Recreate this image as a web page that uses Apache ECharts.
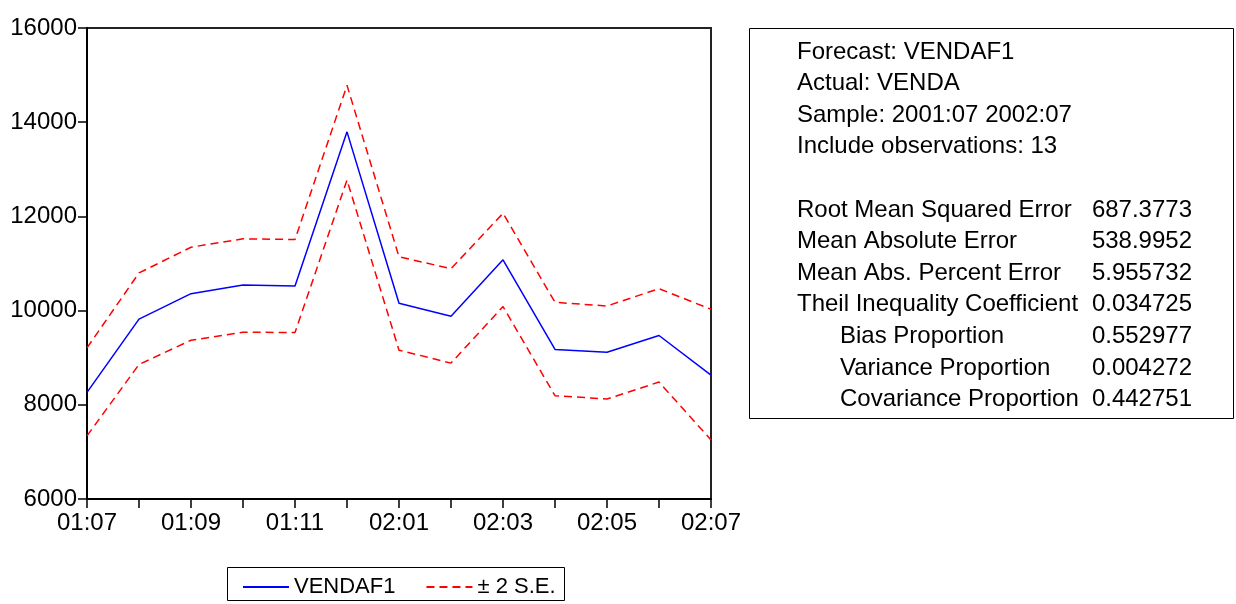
<!DOCTYPE html>
<html>
<head>
<meta charset="utf-8">
<script src="https://cdn.jsdelivr.net/npm/echarts@6/dist/echarts.min.js"></script>
<style>
  html, body { margin: 0; padding: 0; background: #fff; }
  #chart { width: 1236px; height: 604px; }
</style>
</head>
<body>
<div id="chart"></div>
<script>
// Monthly periods of the forecast sample
const periods = ['01:07', '01:08', '01:09', '01:10', '01:11', '01:12',
                 '02:01', '02:02', '02:03', '02:04', '02:05', '02:06', '02:07'];

// Forecast VENDAF1 and its ±2 standard-error band
const forecast = [8264, 9820, 10360, 10542, 10521, 13795, 10155, 9879, 11079, 9175, 9117, 9471, 8631];
const upperBand = [9209, 10800, 11346, 11524, 11509, 14783, 11143, 10889, 12066, 10176, 10098, 10466, 10028];
const lowerBand = [7340, 8857, 9371, 9541, 9534, 12772, 9160, 8885, 10085, 8193, 8123, 8483, 7255];

// Y-axis range
const yMin = 6000, yMax = 16000, yStep = 2000;

// Forecast evaluation summary
const headerLines = ['Forecast: VENDAF1', 'Actual: VENDA', 'Sample: 2001:07 2002:07', 'Include observations: 13'];
const statNames = ['Root Mean Squared Error', 'Mean Absolute Error', 'Mean Abs. Percent Error',
                   'Theil Inequality Coefficient', 'Bias Proportion', 'Variance Proportion', 'Covariance Proportion'];
const statValues = ['687.3773', '538.9952', '5.955732', '0.034725', '0.552977', '0.004272', '0.442751'];
const statIndented = [false, false, false, false, true, true, true];

const FONT = '"Liberation Sans", Arial, sans-serif';
const chart = echarts.init(document.getElementById('chart'), null, { renderer: 'canvas' });

// Summary box drawn as graphic text
const boxChildren = [{
  type: 'rect',
  shape: { x: 749.5, y: 28.5, width: 484, height: 390 },
  style: { fill: '#fff', stroke: '#000', lineWidth: 1 }
}];
headerLines.forEach((t, i) => {
  boxChildren.push({
    type: 'text', x: 797, y: 52 + i * 31.5,
    style: { text: t, font: '24px ' + FONT, fill: '#000', verticalAlign: 'middle', align: 'left' }
  });
});
statNames.forEach((t, i) => {
  const y = 210 + i * 31.6;
  boxChildren.push({
    type: 'text', x: statIndented[i] ? 840 : 797, y: y,
    style: { text: t, font: '24px ' + FONT, fill: '#000', verticalAlign: 'middle', align: 'left' }
  });
  boxChildren.push({
    type: 'text', x: 1192, y: y,
    style: { text: statValues[i], font: '24px ' + FONT, fill: '#000', verticalAlign: 'middle', align: 'right' }
  });
});

const option = {
  animation: false,
  backgroundColor: '#fff',
  textStyle: { fontFamily: FONT },
  grid: {
    left: 87, right: 525, top: 28, bottom: 105,
    show: true, borderColor: '#222', borderWidth: 2, backgroundColor: 'transparent'
  },
  legend: {
    left: 237, top: 571,
    itemWidth: 46, itemHeight: 14, itemGap: 30,
    itemStyle: { opacity: 0 },
    textStyle: { fontSize: 22, color: '#000', fontFamily: FONT },
    data: ['VENDAF1', '± 2 S.E.']
  },
  xAxis: {
    type: 'category',
    data: periods,
    boundaryGap: false,
    axisLine: { lineStyle: { color: '#000', width: 2 } },
    axisTick: { show: true, interval: 0, length: 9, lineStyle: { color: '#000', width: 1.5 } },
    axisLabel: { interval: 1, color: '#000', fontSize: 24, margin: 12, fontFamily: FONT },
    splitLine: { show: false }
  },
  yAxis: {
    type: 'value',
    min: yMin, max: yMax, interval: yStep,
    axisLine: { show: true, lineStyle: { color: '#000', width: 2 } },
    axisTick: { show: true, length: 9, lineStyle: { color: '#000', width: 1.5 } },
    axisLabel: { color: '#000', fontSize: 24, margin: 10, fontFamily: FONT, formatter: v => String(v) },
    splitLine: { show: false }
  },
  series: [
    {
      name: 'VENDAF1', type: 'line', data: forecast,
      symbol: 'none', lineStyle: { color: '#0000ff', width: 1.5 },
      itemStyle: { color: '#0000ff' }, z: 3
    },
    {
      name: '± 2 S.E.', type: 'line', data: upperBand,
      symbol: 'none', lineStyle: { color: '#ff0000', width: 1.5, type: [8, 5] },
      itemStyle: { color: '#ff0000' }
    },
    {
      name: '± 2 S.E.', type: 'line', data: lowerBand,
      symbol: 'none', lineStyle: { color: '#ff0000', width: 1.5, type: [8, 5] },
      itemStyle: { color: '#ff0000' }
    }
  ],
  graphic: [
    { type: 'group', children: boxChildren },
    {
      type: 'rect',
      shape: { x: 227.5, y: 567.5, width: 337, height: 33 },
      style: { fill: 'none', stroke: '#000', lineWidth: 1 },
      z: 100
    }
  ]
};

chart.setOption(option);
</script>
</body>
</html>
